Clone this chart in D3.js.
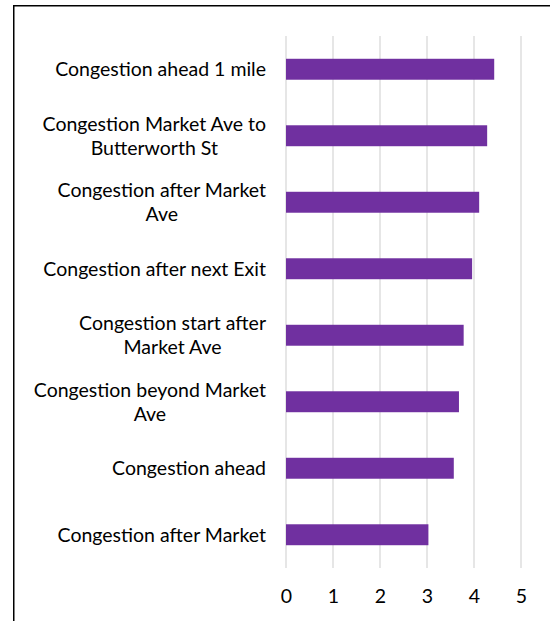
<!DOCTYPE html>
<html>
<head>
<meta charset="utf-8">
<script src="https://cdn.jsdelivr.net/npm/d3@7"></script>
<style>
  html, body { margin: 0; padding: 0; background: #fff; overflow: hidden; }
  svg { display: block; }
</style>
</head>
<body>
<script>
// Category labels (top to bottom); "\n" marks a line break in the axis label
const categories = [
  "Congestion ahead 1 mile",
  "Congestion Market Ave to\nButterworth St",
  "Congestion after Market\nAve",
  "Congestion after next Exit",
  "Congestion start after\nMarket Ave",
  "Congestion beyond Market\nAve",
  "Congestion ahead",
  "Congestion after Market"
];
const values = [4.43, 4.28, 4.11, 3.96, 3.78, 3.68, 3.57, 3.03];
const xTicks = [0, 1, 2, 3, 4, 5];

const W = 550, H = 621;
const margin = { top: 36, left: 286, right: 29, bottom: 53 };
const fontFamily = "Lato, 'Open Sans', sans-serif";
const fontSize = 19.5;

const svg = d3.select("body").append("svg")
  .attr("width", W).attr("height", H);

// chart frame (extends beyond the window on the right and bottom)
svg.append("rect")
  .attr("x", 13.75).attr("y", 5.75)
  .attr("width", W + 40).attr("height", H + 40)
  .attr("fill", "none").attr("stroke", "#000").attr("stroke-width", 1.5);

const x = d3.scaleLinear().domain([0, 5]).range([margin.left, W - margin.right]);
const y = d3.scaleBand().domain(categories)
  .range([margin.top, H - margin.bottom])
  .paddingInner(0.685).paddingOuter(0.3425);

// vertical gridlines
svg.append("g").selectAll("line").data(xTicks).join("line")
  .attr("x1", d => x(d)).attr("x2", d => x(d))
  .attr("y1", margin.top).attr("y2", H - margin.bottom)
  .attr("stroke", "#d9d9d9").attr("stroke-width", 1.3);

// bars
svg.append("g").selectAll("rect").data(values).join("rect")
  .attr("x", x(0))
  .attr("y", (d, i) => y(categories[i]))
  .attr("width", d => x(d) - x(0))
  .attr("height", y.bandwidth())
  .attr("fill", "#7030a0");

// x axis tick labels
const xAxis = d3.axisBottom(x).tickValues(xTicks).tickSize(0).tickPadding(0)
  .tickFormat(d3.format("d"));
const gx = svg.append("g")
  .attr("transform", `translate(0,${H - margin.bottom})`)
  .call(xAxis);
gx.select(".domain").remove();
gx.selectAll("text")
  .attr("y", 35).attr("dy", 0)
  .attr("font-family", fontFamily).attr("font-size", fontSize)
  .attr("fill", "#000");

// category labels: block right-aligned, lines centered within the block
const labelRight = x(0) - 20;
const lineH = 24;
const lg = svg.append("g")
  .attr("font-family", fontFamily).attr("font-size", fontSize).attr("fill", "#000");
categories.forEach(cat => {
  const lines = cat.split("\n");
  const g = lg.append("g");
  const cy = y(cat) + y.bandwidth() / 2;
  const texts = lines.map((ln, j) => g.append("text")
    .attr("y", cy + (j - (lines.length - 1) / 2) * lineH)
    .attr("dy", "0.35em")
    .text(ln));
  const widths = texts.map(t => t.node().getComputedTextLength());
  const maxW = d3.max(widths);
  const cx = labelRight - maxW / 2;
  texts.forEach(t => t.attr("x", cx).attr("text-anchor", "middle"));
});
</script>
</body>
</html>
